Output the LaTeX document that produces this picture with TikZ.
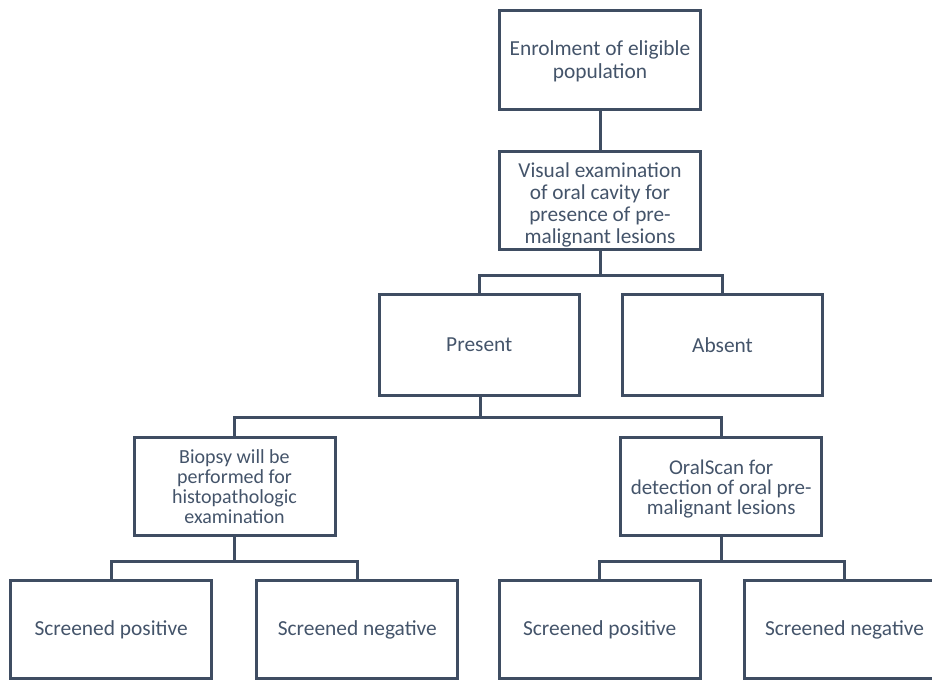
\documentclass[tikz,border=0pt]{standalone}
\usepackage{fontspec}
\setmainfont{Carlito}
\definecolor{linec}{HTML}{3F4D62}
\definecolor{textc}{HTML}{44546A}
\tikzset{
  box/.style={draw=linec, line width=3pt, minimum width=201pt, inner sep=0pt, align=center, text=textc, font=\fontsize{21.4}{23}\selectfont},
  lbl/.style={align=center, text=textc, inner sep=0pt},
  conn/.style={draw=linec, line width=3pt},
}
\begin{document}
\begin{tikzpicture}[x=1pt,y=-1pt]
\useasboundingbox (0,0) rectangle (932,680);
\clip (0,0) rectangle (932,680);
\node[box, minimum height=99pt, label={[lbl, font=\fontsize{21.4}{23.3}\selectfont, yshift=-2pt]center:Enrolment of eligible\\population}] (b1) at (600,59.5) {};
\node[box, minimum height=98pt, label={[lbl, font=\fontsize{21.3}{22.2}\selectfont, yshift=-4.5pt]center:Visual examination\\of oral cavity for\\presence of pre-\\malignant lesions}] (b2) at (600,200.5) {};
\node[box, minimum width=200pt, minimum height=101pt] (present) at (479.3,344.7) {Present};
\node[box, minimum width=200pt, minimum height=101pt] (absent) at (722.5,344.7) {Absent};
\node[box, minimum height=98.5pt, font=\fontsize{20}{20}\selectfont] (biopsy) at (234.5,486.5) {Biopsy will be\\performed for\\histopathologic\\examination};
\node[box, minimum height=98.5pt, label={[lbl, font=\fontsize{21}{20}\selectfont, yshift=-2.5pt]center:OralScan for\\detection of oral pre-\\malignant lesions}] (oral) at (721.2,486.5) {};
\node[box, minimum height=98pt] (pos1) at (111.2,629.7) {Screened positive};
\node[box, minimum height=98pt] (neg1) at (357.3,629.7) {Screened negative};
\node[box, minimum height=98pt] (pos2) at (599.7,629.7) {Screened positive};
\node[box, minimum height=98pt] (neg2) at (844.5,629.7) {Screened negative};
\draw[conn] (b1.south) -- (b2.north);
\draw[conn] (b2.south) -- ++(0,24) coordinate (j1);
\draw[conn] (j1) -| (present.north);
\draw[conn] (j1) -| (absent.north);
\draw[conn] ([xshift=0.7pt]present.south) -- ++(0,21) coordinate (j2);
\draw[conn] (j2) -| (biopsy.north);
\draw[conn] (j2) -| (oral.north);
\draw[conn] (biopsy.south) -- ++(0,24) coordinate (j3);
\draw[conn] (j3) -| (pos1.north);
\draw[conn] (j3) -| (neg1.north);
\draw[conn] (oral.south) -- ++(0,24) coordinate (j4);
\draw[conn] (j4) -| (pos2.north);
\draw[conn] (j4) -| (neg2.north);
\end{tikzpicture}
\end{document}
